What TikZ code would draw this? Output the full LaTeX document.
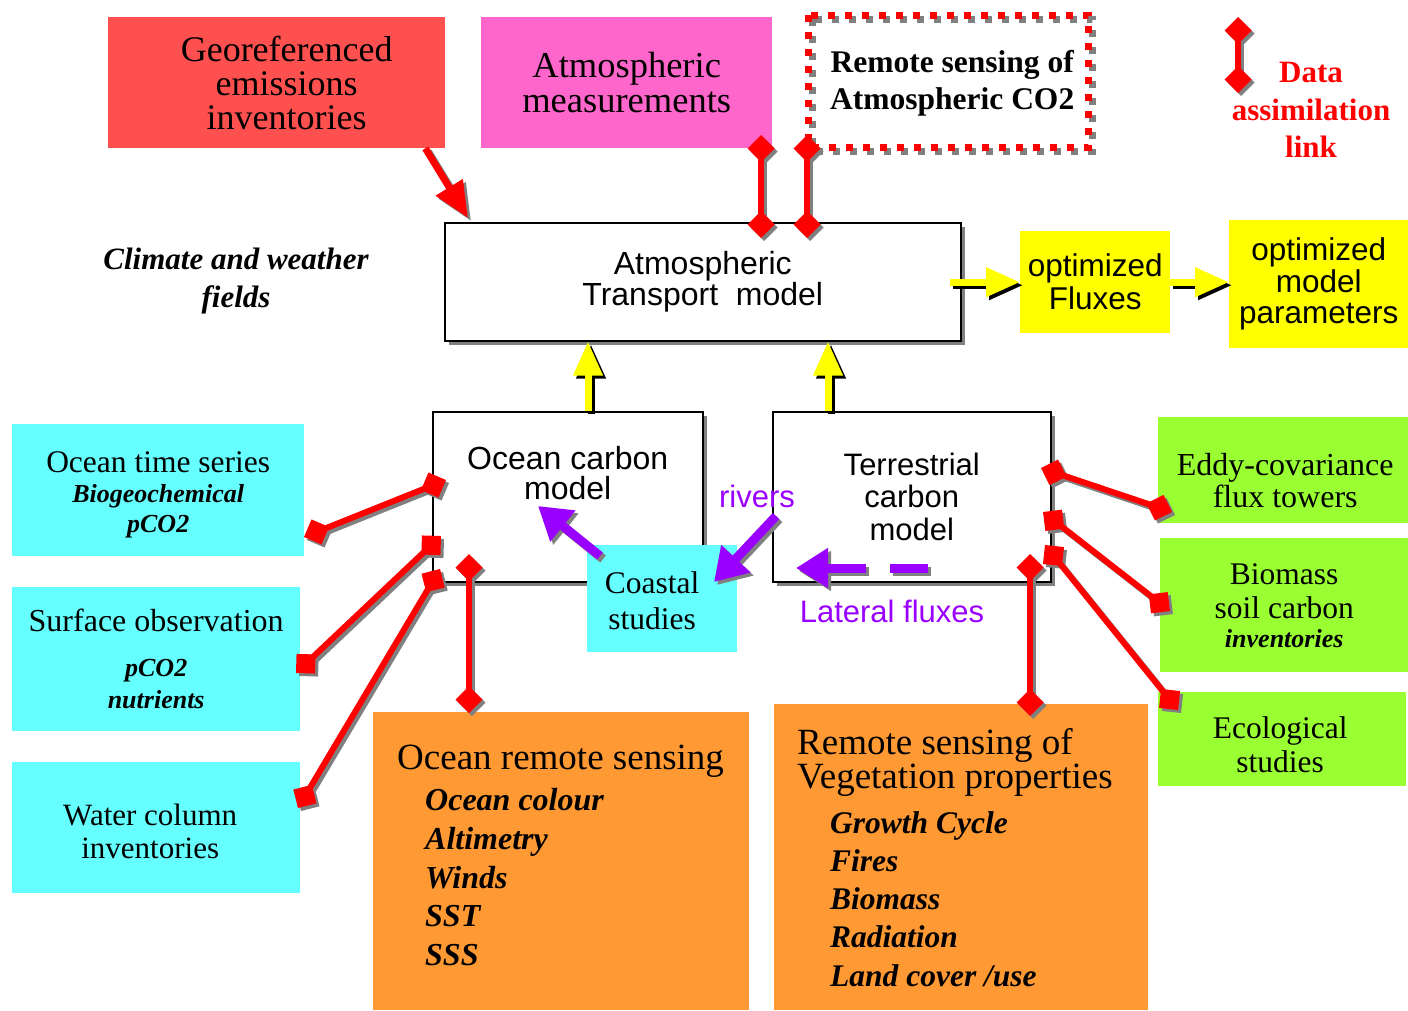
\documentclass[tikz,border=0pt]{standalone}
\usepackage{fontspec}
\setmainfont{Liberation Serif}
\setsansfont{Liberation Sans}
\usetikzlibrary{positioning,arrows.meta,shadows}

\definecolor{emisred}{RGB}{255,80,80}
\definecolor{measpink}{RGB}{255,102,204}
\definecolor{obscyan}{RGB}{102,255,255}
\definecolor{rsorange}{RGB}{255,153,51}
\definecolor{landgreen}{RGB}{153,255,51}
\definecolor{linkred}{RGB}{255,0,0}
\definecolor{fluxpurple}{RGB}{153,0,255}
\definecolor{optyellow}{RGB}{255,255,0}

\newcommand{\fsz}[2]{\fontsize{#1}{#2}\selectfont}
\newcommand{\bism}{\bfseries\itshape\fontsize{26}{30}\selectfont}

\tikzset{
  cbox/.style={fill=#1, anchor=north west, inner sep=0pt, align=center},
  model/.style={draw, line width=1.5pt, fill=white, anchor=north west, inner sep=0pt,
    align=center, font=\sffamily\fsz{32}{31},
    drop shadow={shadow xshift=4pt, shadow yshift=-4pt, fill=gray, opacity=1}},
  plain/.style={inner sep=0pt, align=center},
  dotframe/.style={draw=linkred, line width=7pt, dash pattern=on 7pt off 10pt},
  dotshade/.style={dotframe, draw=gray, transform canvas={xshift=4pt, yshift=-4pt}},
  link/.style={draw=linkred, line width=6pt,
    {Diamond[length=27pt,width=27pt]}-{Diamond[length=27pt,width=27pt]}},
  linkshade/.style={link, draw=gray, transform canvas={xshift=3pt, yshift=-3pt}},
  earrow/.style={draw=linkred, line width=7pt, -{Triangle[length=36pt,width=30pt]}},
  eshade/.style={earrow, draw=gray, transform canvas={xshift=3pt, yshift=-3pt}},
  yarrow/.style={draw=optyellow, line width=7pt, -{Triangle[length=34pt,width=28pt]}},
  yshade/.style={yarrow, draw=black, transform canvas={xshift=3pt, yshift=-3pt}},
  parrow/.style={draw=fluxpurple, line width=9pt, -{Triangle[length=32pt,width=38pt]}},
  pshade/.style={parrow, draw=gray, transform canvas={xshift=3pt, yshift=-3pt}},
}

\begin{document}
\begin{tikzpicture}[x=1pt,y=-1pt]
  \useasboundingbox (0,0) rectangle (1408,1010);

  % inputs on top
  \node[cbox=emisred, minimum width=337pt, minimum height=131pt] (emis) at (108,17) {};
  \node[plain, font=\fsz{36}{34}] (emistxt) at ([shift={(10,0)}]emis.center) {Georeferenced\\emissions\\inventories};
  \node[cbox=measpink, minimum width=291pt, minimum height=131pt, font=\fsz{36.5}{35}] (meas) at (481,17)
    {Atmospheric\\measurements};
  \node[plain, anchor=north west, minimum width=280pt, minimum height=132pt] (rsatm) at (808,15) {};
  \node[plain, font=\bfseries\fsz{31.5}{37}] (rsatmtxt) at ([shift={(4,2)}]rsatm.center) {Remote sensing of\\Atmospheric CO2};
  \draw[dotshade] (rsatm.north west) rectangle (rsatm.south east);
  \draw[dotframe] (rsatm.north west) rectangle (rsatm.south east);

  % legend
  \coordinate (leg1) at (1238,17);
  \coordinate (leg2) at (1238,93);
  \node[plain, text=linkred, font=\bfseries\fsz{31}{37.5}] (legtxt) at (1311,110) {Data\\assimilation\\link};

  \node[plain, font=\bfseries\itshape\fsz{31}{38}] (clim) at (236,281) {Climate and weather\\fields};

  % models
  \node[model, minimum width=516pt, minimum height=118pt] (atm) at (444,222) {Atmospheric\\Transport\ \ model};
  \node[model, minimum width=270pt, minimum height=170pt] (ocean) at (432,411) {};
  \node[plain, below=35pt of ocean.north, font=\sffamily\fsz{32}{30}] (oceantxt) {Ocean carbon\\model};
  \node[model, minimum width=278pt, minimum height=170pt, font=\sffamily\fsz{31}{32.5}] (terr) at (772,411)
    {Terrestrial\\carbon\\model};

  \node[cbox=optyellow, minimum width=150pt, minimum height=102pt, font=\sffamily\fsz{31.5}{33}] (flux) at (1020,231)
    {optimized\\Fluxes};
  \node[cbox=optyellow, minimum width=179pt, minimum height=128pt, font=\sffamily\fsz{31.5}{31.5}] (param) at (1229,220)
    {optimized\\model\\parameters};

  % ocean side
  \node[cbox=obscyan, minimum width=292pt, minimum height=132pt] (ots) at (12,424) {};
  \node[plain, font=\fsz{31.5}{30}] (otstxt) at ([shift={(0,5)}]ots.center)
    {Ocean time series\\{\bism Biogeochemical}\\{\bism pCO2}};
  \node[cbox=obscyan, minimum width=288pt, minimum height=144pt, font=\fsz{32}{32}] (surf) at (12,587)
    {Surface observation\\[13pt]{\bism pCO2}\\{\bism nutrients}};
  \node[cbox=obscyan, minimum width=288pt, minimum height=131pt] (water) at (12,762) {};
  \node[plain, font=\fsz{31}{33}] (watertxt) at ([shift={(-6,4)}]water.center) {Water column\\inventories};
  \node[cbox=obscyan, minimum width=150pt, minimum height=107pt] (coast) at (587,545) {};
  \node[plain, font=\fsz{31.5}{36}] (coasttxt) at ([shift={(-10,2)}]coast.center) {Coastal\\studies};

  \node[cbox=rsorange, minimum width=376pt, minimum height=298pt] (orsens) at (373,712) {};
  \node[below right=33pt and 24pt of orsens.north west, inner sep=0pt, align=left, font=\fsz{37}{33}] (orhead)
    {Ocean remote sensing};
  \node[below right=76pt and 52pt of orsens.north west, inner sep=0pt, align=left, font=\bfseries\itshape\fsz{32}{38.8}] (oritems)
    {Ocean colour\\Altimetry\\Winds\\SST\\SSS};

  % land side
  \node[cbox=landgreen, minimum width=250pt, minimum height=106pt] (eddy) at (1158,417) {};
  \node[plain, font=\fsz{32}{32}] (eddytxt) at ([shift={(2,10)}]eddy.center) {Eddy-covariance\\flux towers};
  \node[cbox=landgreen, minimum width=248pt, minimum height=134pt, font=\fsz{31.5}{34}] (biom) at (1160,538)
    {Biomass\\soil carbon\\[-5pt]{\bism inventories}};
  \node[cbox=landgreen, minimum width=248pt, minimum height=94pt] (eco) at (1158,692) {};
  \node[plain, font=\fsz{31.5}{34}] (ecotxt) at ([shift={(-2,6)}]eco.center) {Ecological\\studies};

  \node[cbox=rsorange, minimum width=374pt, minimum height=306pt] (vegrs) at (774,704) {};
  \node[below right=24pt and 23pt of vegrs.north west, inner sep=0pt, align=left, font=\fsz{37}{34}] (veghead)
    {Remote sensing of\\Vegetation properties};
  \node[below right=107pt and 56pt of vegrs.north west, inner sep=0pt, align=left, font=\bfseries\itshape\fsz{31.5}{38.3}] (vegitems)
    {Growth Cycle\\Fires\\Biomass\\Radiation\\Land cover /use};

  % lateral transport
  \node[plain, text=fluxpurple, font=\sffamily\fsz{31}{31}] (rivers) at (757,496) {rivers};
  \node[plain, text=fluxpurple, font=\sffamily\fsz{31}{31}] (lateral) at (892,611) {Lateral fluxes};
  \coordinate (c2o1) at (600,556);  \coordinate (c2o2) at (538,506);
  \coordinate (riv1) at (776,516);  \coordinate (riv2) at (714,582);
  \coordinate (lat1) at (866,568);  \coordinate (lat2) at (796,568);
  \coordinate (dash1) at (890,568); \coordinate (dash2) at (928,568);
  \foreach \a/\b in {c2o1/c2o2, riv1/riv2, lat1/lat2} {
    \draw[pshade] (\a) -- (\b);
    \draw[parrow] (\a) -- (\b);
  }
  \draw[draw=gray, line width=9pt, transform canvas={xshift=3pt, yshift=-3pt}] (dash1) -- (dash2);
  \draw[draw=fluxpurple, line width=9pt] (dash1) -- (dash2);

  % fluxes into the transport model
  \coordinate (oy) at (588,411);
  \coordinate (ty) at (828,411);
  \foreach \s in {yshade, yarrow} {
    \draw[\s] (oy) -- (oy |- atm.south);
    \draw[\s] (ty) -- (ty |- atm.south);
    \draw[\s] ([xshift=-12pt]atm.east |- flux.west) -- (flux.west);
    \draw[\s] (flux.east) -- (flux.east -| param.west);
  }
  \draw[eshade] ([xshift=-20pt]emis.south east) -- ([shift={(24pt,4pt)}]atm.north west);
  \draw[earrow] ([xshift=-20pt]emis.south east) -- ([shift={(24pt,4pt)}]atm.north west);

  % data assimilation links
  \coordinate (am1) at (761,135);    \coordinate (am2) at (761,238);
  \coordinate (rs1) at (807,135);    \coordinate (rs2) at (807,238);
  \coordinate (ots1) at (446,480);   \coordinate (ots2) at (304,537);
  \coordinate (surf1) at (441,536);  \coordinate (surf2) at (296,673);
  \coordinate (wat1) at (440,569);   \coordinate (wat2) at (298,808);
  \coordinate (ors1) at (469,554);   \coordinate (ors2) at (469,713);
  \coordinate (edd1) at (1041,468);  \coordinate (edd2) at (1172,512);
  \coordinate (bio1) at (1043,512);  \coordinate (bio2) at (1170,611);
  \coordinate (eco1) at (1045,545);  \coordinate (eco2) at (1178,710);
  \coordinate (veg1) at (1030,554);  \coordinate (veg2) at (1030,716);
  \foreach \a/\b in {am1/am2, rs1/rs2, leg1/leg2, ots1/ots2, surf1/surf2, wat1/wat2,
                     ors1/ors2, edd1/edd2, bio1/bio2, eco1/eco2, veg1/veg2} {
    \draw[linkshade] (\a) -- (\b);
    \draw[link] (\a) -- (\b);
  }
\end{tikzpicture}
\end{document}
